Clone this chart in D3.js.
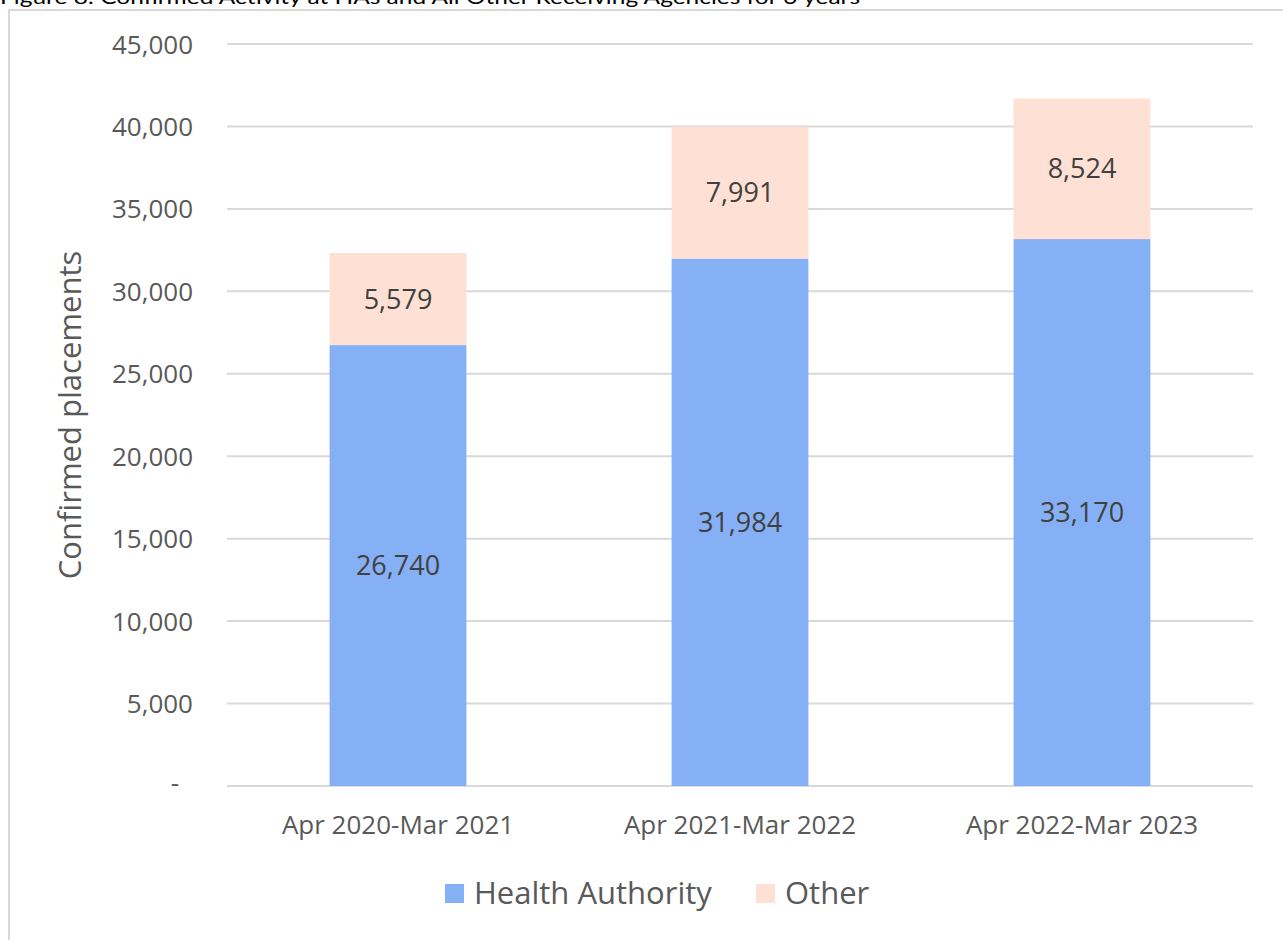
<!DOCTYPE html>
<html><head><meta charset="utf-8">
<script src="https://cdn.jsdelivr.net/npm/d3@7"></script>
<style>html,body{margin:0;padding:0;background:#fff;overflow:hidden}</style>
</head><body>
<svg id="c" width="1283" height="940"></svg>
<script>
const categories = ["Apr 2020-Mar 2021", "Apr 2021-Mar 2022", "Apr 2022-Mar 2023"];
const healthAuthority = [26740, 31984, 33170];
const other = [5579, 7991, 8524];
const seriesNames = ["Health Authority", "Other"];
const yTicks = [0, 5000, 10000, 15000, 20000, 25000, 30000, 35000, 40000, 45000];
const colors = ["#86b0f5", "#fee0d4"];

(function () {
const svg = d3.select("#c");
const font = "'Open Sans', 'Noto Sans', sans-serif";

// title (cut off at top in the reference)
svg.append("text").attr("x", 0).attr("y", 4)
  .attr("font-family", "Lato, 'Liberation Sans', sans-serif").attr("font-size", 20)
  .attr("fill", "#000").attr("textLength", 860).attr("lengthAdjust", "spacingAndGlyphs")
  .text("Figure 8: Confirmed Activity at HAs and All Other Receiving Agencies for 3 years");

// frame
svg.append("rect").attr("x", 9).attr("y", 10).attr("width", 1400).attr("height", 1000)
  .attr("fill", "none").attr("stroke", "#d9d9d9").attr("stroke-width", 2);

const pL = 227, pR = 1253, pT = 44, pB = 786;
const x = d3.scaleBand().domain(categories).range([pL, pR]).paddingInner(0.6).paddingOuter(0.3);
const y = d3.scaleLinear().domain([0, 45000]).range([pB, pT]);

// gridlines
svg.append("g").selectAll("line").data(yTicks).join("line")
  .attr("x1", pL).attr("x2", pR)
  .attr("y1", d => y(d)).attr("y2", d => y(d))
  .attr("stroke", "#d9d9d9").attr("stroke-width", 2);

// y axis
const yAxis = d3.axisLeft(y).tickValues(yTicks).tickSize(0).tickPadding(0)
  .tickFormat(d => d === 0 ? "-" : d3.format(",")(d));
const ya = svg.append("g").attr("transform", `translate(${pL - 34},0)`).call(yAxis);
ya.select(".domain").remove();
ya.selectAll("text").attr("font-family", font).attr("font-size", 26).attr("fill", "#595959")
  .attr("text-anchor", "end").attr("dy", "0.35em");
ya.selectAll("text").filter(d => d === 0).attr("dx", -14).attr("dy", "0.2em");

// x axis
const xAxis = d3.axisBottom(x).tickSize(0).tickPadding(0);
const xa = svg.append("g").attr("transform", `translate(0,${pB + 39})`).call(xAxis);
xa.select(".domain").remove();
xa.selectAll("text").attr("font-family", font).attr("font-size", 26).attr("fill", "#595959").attr("dy", "0.35em");

// stacks
const rows = categories.map((c, i) => ({cat: c, "Health Authority": healthAuthority[i], "Other": other[i]}));
const stack = d3.stack().keys(seriesNames)(rows);
const g = svg.append("g");
stack.forEach((s, si) => {
  g.selectAll(null).data(s).join("rect")
    .attr("x", d => x(d.data.cat)).attr("width", x.bandwidth())
    .attr("y", d => y(d[1])).attr("height", d => y(d[0]) - y(d[1]))
    .attr("fill", colors[si]);
  g.selectAll(null).data(s).join("text")
    .attr("x", d => x(d.data.cat) + x.bandwidth() / 2)
    .attr("y", d => (y(d[0]) + y(d[1])) / 2)
    .attr("dy", "0.35em").attr("text-anchor", "middle")
    .attr("font-family", font).attr("font-size", 27).attr("fill", "#404040")
    .text(d => d3.format(",")(d[1] - d[0]));
});

// y title
svg.append("text").attr("transform", `translate(81,${(pT + pB) / 2}) rotate(-90)`)
  .attr("text-anchor", "middle").attr("font-family", font).attr("font-size", 31).attr("fill", "#595959")
  .text("Confirmed placements");

// legend
const legendItems = [{name: seriesNames[0], x: 445}, {name: seriesNames[1], x: 756}];
const lg = svg.append("g");
legendItems.forEach((it, i) => {
  lg.append("rect").attr("x", it.x).attr("y", 884).attr("width", 19).attr("height", 19).attr("fill", colors[i]);
  lg.append("text").attr("x", it.x + 29).attr("y", 893).attr("dy", "0.35em")
    .attr("font-family", font).attr("font-size", 31).attr("fill", "#595959").text(it.name);
});
})();
</script>
</body></html>
